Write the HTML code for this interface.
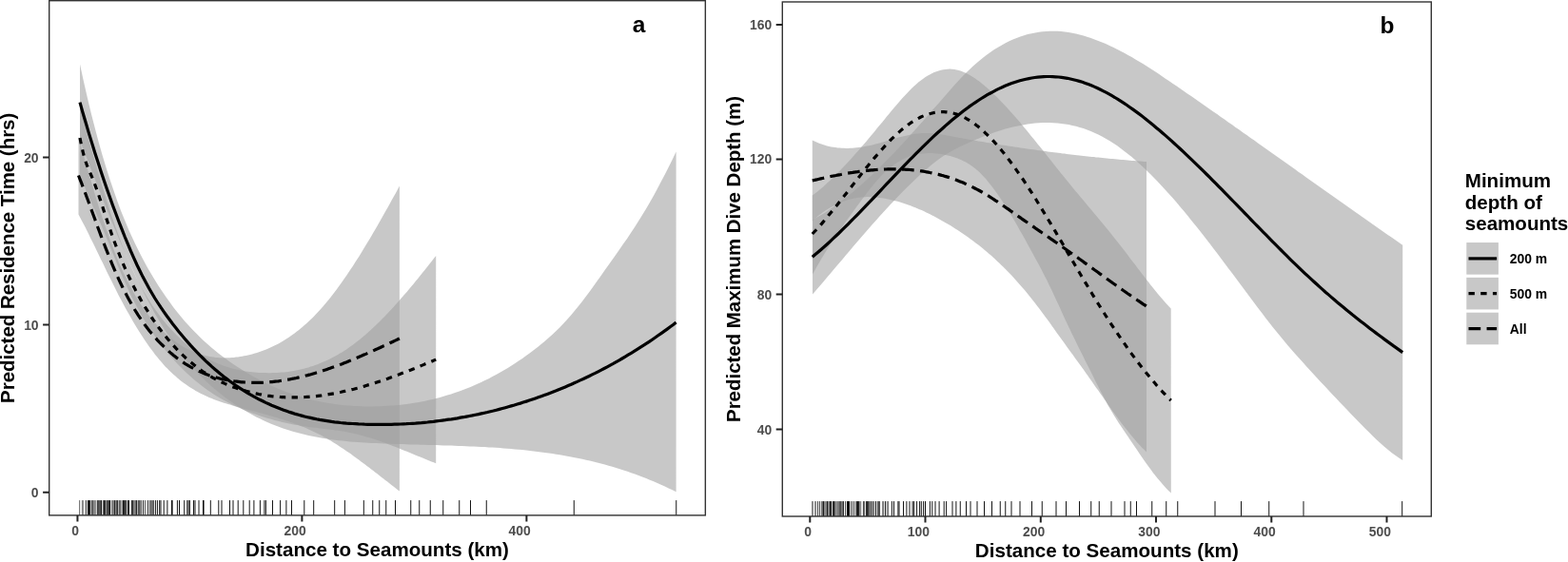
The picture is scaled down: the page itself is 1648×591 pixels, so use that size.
<!DOCTYPE html>
<html lang="en"><head><meta charset="utf-8"><title>Predicted residence time and dive depth vs distance to seamounts</title>
<style>
html,body{margin:0;padding:0;background:#fff;}
body{width:1648px;height:591px;overflow:hidden;}
svg{display:block;}
text{font-family:"Liberation Sans",sans-serif;font-weight:bold;}
.tk{font-size:13.9px;fill:#4d4d4d;}
.ti{font-size:20.6px;fill:#000;}
.tag{font-size:24.5px;fill:#000;}
.lg{font-size:13.9px;fill:#000;}
.lt{font-size:20.55px;fill:#000;}
</style></head><body>
<svg width="1648" height="591" viewBox="0 0 1648 591">
<rect width="1648" height="591" fill="#fff"/>
<path d="M84.0,67.5 L87.9,85.6 L91.9,102.9 L95.8,119.2 L99.8,134.7 L103.7,149.4 L107.6,163.3 L111.6,176.4 L115.5,188.8 L119.5,200.6 L123.4,211.7 L127.3,222.2 L131.3,232.1 L135.2,241.4 L139.2,250.3 L143.1,258.6 L147.1,266.6 L151.0,274.1 L154.9,281.3 L158.9,288.1 L162.8,294.6 L166.8,300.9 L170.7,306.8 L174.6,312.6 L178.6,318.1 L182.5,323.4 L186.5,328.4 L190.4,333.2 L194.3,337.9 L198.3,342.3 L202.2,346.6 L206.2,350.6 L210.1,354.5 L214.0,358.2 L218.0,361.8 L221.9,365.2 L225.9,368.5 L229.8,371.7 L233.8,374.7 L237.7,377.6 L241.6,380.5 L245.6,383.2 L249.5,385.8 L253.5,388.3 L257.4,390.8 L261.3,393.1 L265.3,395.4 L269.2,397.6 L273.2,399.7 L277.1,401.7 L281.0,403.6 L285.0,405.4 L288.9,407.2 L292.9,408.9 L296.8,410.5 L300.7,412.0 L304.7,413.4 L308.6,414.8 L312.6,416.0 L316.5,417.3 L320.5,418.4 L324.4,419.4 L328.3,420.4 L332.3,421.4 L336.2,422.2 L340.2,423.0 L344.1,423.7 L348.0,424.3 L352.0,424.9 L355.9,425.4 L359.9,425.9 L363.8,426.3 L367.7,426.6 L371.7,426.9 L375.6,427.1 L379.6,427.3 L383.5,427.4 L387.4,427.4 L391.4,427.4 L395.3,427.3 L399.3,427.2 L403.2,427.1 L407.2,426.8 L411.1,426.6 L415.0,426.3 L419.0,425.9 L422.9,425.5 L426.9,425.0 L430.8,424.4 L434.7,423.8 L438.7,423.2 L442.6,422.4 L446.6,421.7 L450.5,420.8 L454.4,419.9 L458.4,418.9 L462.3,417.9 L466.3,416.8 L470.2,415.6 L474.1,414.4 L478.1,413.1 L482.0,411.7 L486.0,410.3 L489.9,408.8 L493.9,407.2 L497.8,405.5 L501.7,403.8 L505.7,402.0 L509.6,400.1 L513.6,398.2 L517.5,396.1 L521.4,394.0 L525.4,391.8 L529.3,389.5 L533.3,387.2 L537.2,384.7 L541.1,382.2 L545.1,379.6 L549.0,376.9 L553.0,374.1 L556.9,371.2 L560.8,368.2 L564.8,365.2 L568.7,362.0 L572.7,358.7 L576.6,355.3 L580.6,351.8 L584.5,348.0 L588.4,344.2 L592.4,340.1 L596.3,335.8 L600.3,331.3 L604.2,326.6 L608.1,321.7 L612.1,316.7 L616.0,311.5 L620.0,306.2 L623.9,300.7 L627.8,295.2 L631.8,289.7 L635.7,284.1 L639.7,278.5 L643.6,273.0 L647.5,267.4 L651.5,261.8 L655.4,256.1 L659.4,250.4 L663.3,244.5 L667.3,238.5 L671.2,232.3 L675.1,226.0 L679.1,219.5 L683.0,212.7 L687.0,205.7 L690.9,198.5 L694.8,191.1 L698.8,183.5 L702.7,175.7 L706.7,167.7 L710.6,159.6 L710.6,517.3 L706.7,515.3 L702.7,513.4 L698.8,511.6 L694.8,509.8 L690.9,508.0 L687.0,506.3 L683.0,504.7 L679.1,503.1 L675.1,501.5 L671.2,500.0 L667.3,498.6 L663.3,497.2 L659.4,495.8 L655.4,494.5 L651.5,493.2 L647.5,492.0 L643.6,490.8 L639.7,489.7 L635.7,488.6 L631.8,487.5 L627.8,486.5 L623.9,485.5 L620.0,484.6 L616.0,483.7 L612.1,482.8 L608.1,482.0 L604.2,481.2 L600.3,480.4 L596.3,479.7 L592.4,479.0 L588.4,478.3 L584.5,477.7 L580.6,477.0 L576.6,476.5 L572.7,475.9 L568.7,475.4 L564.8,474.9 L560.8,474.4 L556.9,474.0 L553.0,473.5 L549.0,473.1 L545.1,472.7 L541.1,472.4 L537.2,472.0 L533.3,471.7 L529.3,471.4 L525.4,471.1 L521.4,470.8 L517.5,470.6 L513.6,470.4 L509.6,470.1 L505.7,469.9 L501.7,469.7 L497.8,469.5 L493.9,469.4 L489.9,469.2 L486.0,469.0 L482.0,468.9 L478.1,468.8 L474.1,468.6 L470.2,468.5 L466.3,468.4 L462.3,468.3 L458.4,468.1 L454.4,468.0 L450.5,467.9 L446.6,467.8 L442.6,467.7 L438.7,467.6 L434.7,467.5 L430.8,467.4 L426.9,467.3 L422.9,467.1 L419.0,467.0 L415.0,466.9 L411.1,466.7 L407.2,466.6 L403.2,466.4 L399.3,466.3 L395.3,466.1 L391.4,465.9 L387.4,465.7 L383.5,465.5 L379.6,465.3 L375.6,465.0 L371.7,464.7 L367.7,464.4 L363.8,464.0 L359.9,463.6 L355.9,463.2 L352.0,462.7 L348.0,462.2 L344.1,461.6 L340.2,461.0 L336.2,460.3 L332.3,459.6 L328.3,458.8 L324.4,458.0 L320.5,457.1 L316.5,456.1 L312.6,455.1 L308.6,454.0 L304.7,452.8 L300.7,451.5 L296.8,450.2 L292.9,448.8 L288.9,447.3 L285.0,445.7 L281.0,444.0 L277.1,442.2 L273.2,440.3 L269.2,438.4 L265.3,436.3 L261.3,434.1 L257.4,431.8 L253.5,429.4 L249.5,426.9 L245.6,424.3 L241.6,421.6 L237.7,418.7 L233.8,415.7 L229.8,412.6 L225.9,409.3 L221.9,405.9 L218.0,402.2 L214.0,398.5 L210.1,394.5 L206.2,390.4 L202.2,386.0 L198.3,381.5 L194.3,376.7 L190.4,371.7 L186.5,366.5 L182.5,361.0 L178.6,355.3 L174.6,349.3 L170.7,343.0 L166.8,336.5 L162.8,329.7 L158.9,322.6 L154.9,315.2 L151.0,307.6 L147.1,299.7 L143.1,291.5 L139.2,283.1 L135.2,274.5 L131.3,265.6 L127.3,256.6 L123.4,247.3 L119.5,237.9 L115.5,228.3 L111.6,218.5 L107.6,208.6 L103.7,198.6 L99.8,188.5 L95.8,178.3 L91.9,168.1 L87.9,157.9 L84.0,147.6Z" fill="#a0a0a0" fill-opacity="0.58"/>
<path d="M84.0,107.0 L86.4,119.1 L88.7,129.7 L91.1,139.1 L93.4,147.8 L95.8,155.9 L98.1,163.9 L100.5,171.9 L102.8,179.9 L105.2,188.0 L107.5,195.9 L109.9,203.7 L112.2,211.2 L114.6,218.6 L116.9,225.8 L119.3,232.8 L121.7,239.5 L124.0,246.1 L126.4,252.5 L128.7,258.6 L131.1,264.5 L133.4,270.2 L135.8,275.7 L138.1,281.0 L140.5,286.0 L142.8,290.9 L145.2,295.6 L147.5,300.0 L149.9,304.4 L152.3,308.5 L154.6,312.5 L157.0,316.3 L159.3,320.0 L161.7,323.5 L164.0,326.8 L166.4,330.1 L168.7,333.2 L171.1,336.2 L173.4,339.1 L175.8,341.9 L178.1,344.6 L180.5,347.1 L182.8,349.6 L185.2,352.0 L187.6,354.3 L189.9,356.6 L192.3,358.7 L194.6,360.8 L197.0,362.8 L199.3,364.7 L201.7,366.5 L204.0,368.2 L206.4,369.9 L208.7,371.5 L211.1,373.0 L213.4,374.4 L215.8,375.8 L218.1,377.1 L220.5,378.4 L222.9,379.5 L225.2,380.6 L227.6,381.7 L229.9,382.7 L232.3,383.6 L234.6,384.5 L237.0,385.3 L239.3,386.1 L241.7,386.8 L244.0,387.4 L246.4,388.0 L248.7,388.6 L251.1,389.1 L253.4,389.6 L255.8,390.0 L258.2,390.4 L260.5,390.7 L262.9,391.0 L265.2,391.3 L267.6,391.5 L269.9,391.7 L272.3,391.9 L274.6,392.0 L277.0,392.1 L279.3,392.1 L281.7,392.2 L284.0,392.2 L286.4,392.1 L288.8,392.1 L291.1,392.0 L293.5,391.8 L295.8,391.6 L298.2,391.4 L300.5,391.2 L302.9,390.9 L305.2,390.5 L307.6,390.2 L309.9,389.7 L312.3,389.3 L314.6,388.8 L317.0,388.2 L319.3,387.7 L321.7,387.0 L324.1,386.4 L326.4,385.6 L328.8,384.9 L331.1,384.1 L333.5,383.2 L335.8,382.3 L338.2,381.3 L340.5,380.3 L342.9,379.3 L345.2,378.2 L347.6,377.0 L349.9,375.8 L352.3,374.5 L354.6,373.2 L357.0,371.8 L359.4,370.4 L361.7,368.9 L364.1,367.4 L366.4,365.8 L368.8,364.1 L371.1,362.4 L373.5,360.6 L375.8,358.8 L378.2,356.9 L380.5,355.0 L382.9,353.0 L385.2,350.9 L387.6,348.8 L389.9,346.7 L392.3,344.5 L394.7,342.3 L397.0,340.0 L399.4,337.7 L401.7,335.3 L404.1,332.9 L406.4,330.5 L408.8,328.0 L411.1,325.5 L413.5,322.9 L415.8,320.3 L418.2,317.7 L420.5,315.0 L422.9,312.3 L425.3,309.6 L427.6,306.9 L430.0,304.1 L432.3,301.3 L434.7,298.4 L437.0,295.6 L439.4,292.7 L441.7,289.8 L444.1,286.8 L446.4,283.9 L448.8,280.9 L451.1,278.0 L453.5,274.9 L455.8,271.9 L458.2,268.9 L458.2,487.2 L455.8,486.3 L453.5,485.4 L451.1,484.5 L448.8,483.5 L446.4,482.6 L444.1,481.6 L441.7,480.6 L439.4,479.7 L437.0,478.7 L434.7,477.7 L432.3,476.8 L430.0,475.8 L427.6,474.8 L425.3,473.9 L422.9,472.9 L420.5,472.0 L418.2,471.0 L415.8,470.1 L413.5,469.2 L411.1,468.3 L408.8,467.4 L406.4,466.5 L404.1,465.6 L401.7,464.8 L399.4,463.9 L397.0,463.1 L394.7,462.3 L392.3,461.6 L389.9,460.8 L387.6,460.1 L385.2,459.4 L382.9,458.7 L380.5,458.0 L378.2,457.4 L375.8,456.8 L373.5,456.2 L371.1,455.7 L368.8,455.2 L366.4,454.7 L364.1,454.2 L361.7,453.8 L359.4,453.4 L357.0,453.1 L354.6,452.7 L352.3,452.4 L349.9,452.1 L347.6,451.8 L345.2,451.5 L342.9,451.2 L340.5,450.9 L338.2,450.7 L335.8,450.4 L333.5,450.1 L331.1,449.8 L328.8,449.5 L326.4,449.2 L324.1,448.9 L321.7,448.6 L319.3,448.2 L317.0,447.9 L314.6,447.5 L312.3,447.1 L309.9,446.7 L307.6,446.2 L305.2,445.7 L302.9,445.2 L300.5,444.7 L298.2,444.2 L295.8,443.7 L293.5,443.1 L291.1,442.5 L288.8,441.9 L286.4,441.2 L284.0,440.6 L281.7,439.9 L279.3,439.2 L277.0,438.5 L274.6,437.7 L272.3,436.9 L269.9,436.1 L267.6,435.3 L265.2,434.5 L262.9,433.6 L260.5,432.7 L258.2,431.8 L255.8,430.8 L253.4,429.8 L251.1,428.8 L248.7,427.7 L246.4,426.6 L244.0,425.5 L241.7,424.3 L239.3,423.1 L237.0,421.8 L234.6,420.5 L232.3,419.2 L229.9,417.8 L227.6,416.4 L225.2,414.9 L222.9,413.4 L220.5,411.8 L218.1,410.2 L215.8,408.5 L213.4,406.7 L211.1,404.9 L208.7,403.1 L206.4,401.2 L204.0,399.2 L201.7,397.2 L199.3,395.1 L197.0,392.9 L194.6,390.7 L192.3,388.4 L189.9,386.1 L187.6,383.7 L185.2,381.2 L182.8,378.6 L180.5,376.0 L178.1,373.3 L175.8,370.5 L173.4,367.7 L171.1,364.7 L168.7,361.7 L166.4,358.5 L164.0,355.3 L161.7,352.0 L159.3,348.5 L157.0,344.9 L154.6,341.3 L152.3,337.4 L149.9,333.5 L147.5,329.4 L145.2,325.1 L142.8,320.8 L140.5,316.2 L138.1,311.5 L135.8,306.7 L133.4,301.6 L131.1,296.4 L128.7,291.0 L126.4,285.5 L124.0,279.9 L121.7,274.1 L119.3,268.3 L116.9,262.5 L114.6,256.7 L112.2,250.9 L109.9,245.2 L107.5,239.6 L105.2,234.1 L102.8,228.7 L100.5,223.3 L98.1,218.1 L95.8,212.8 L93.4,207.4 L91.1,201.9 L88.7,196.0 L86.4,189.8 L84.0,183.1Z" fill="#a0a0a0" fill-opacity="0.58"/>
<path d="M82.5,143.4 L84.6,151.3 L86.7,159.1 L88.9,166.8 L91.0,174.4 L93.1,181.8 L95.2,189.1 L97.4,196.3 L99.5,203.4 L101.6,210.3 L103.7,217.1 L105.8,223.7 L108.0,230.2 L110.1,236.5 L112.2,242.6 L114.3,248.6 L116.5,254.4 L118.6,260.1 L120.7,265.5 L122.8,270.8 L124.9,275.9 L127.1,280.8 L129.2,285.5 L131.3,290.1 L133.4,294.4 L135.6,298.6 L137.7,302.6 L139.8,306.5 L141.9,310.2 L144.0,313.8 L146.2,317.2 L148.3,320.4 L150.4,323.6 L152.5,326.6 L154.6,329.5 L156.8,332.2 L158.9,334.9 L161.0,337.4 L163.1,339.8 L165.3,342.2 L167.4,344.4 L169.5,346.5 L171.6,348.6 L173.7,350.6 L175.9,352.5 L178.0,354.3 L180.1,356.0 L182.2,357.7 L184.4,359.2 L186.5,360.7 L188.6,362.1 L190.7,363.5 L192.8,364.7 L195.0,365.9 L197.1,367.0 L199.2,368.1 L201.3,369.1 L203.5,370.0 L205.6,370.8 L207.7,371.6 L209.8,372.3 L211.9,373.0 L214.1,373.6 L216.2,374.1 L218.3,374.6 L220.4,375.0 L222.6,375.3 L224.7,375.6 L226.8,375.9 L228.9,376.1 L231.0,376.2 L233.2,376.3 L235.3,376.4 L237.4,376.3 L239.5,376.3 L241.7,376.2 L243.8,376.1 L245.9,375.9 L248.0,375.6 L250.1,375.4 L252.3,375.1 L254.4,374.7 L256.5,374.3 L258.6,373.9 L260.7,373.5 L262.9,373.0 L265.0,372.4 L267.1,371.8 L269.2,371.2 L271.4,370.5 L273.5,369.8 L275.6,369.1 L277.7,368.3 L279.8,367.4 L282.0,366.5 L284.1,365.6 L286.2,364.6 L288.3,363.6 L290.5,362.5 L292.6,361.4 L294.7,360.2 L296.8,359.0 L298.9,357.7 L301.1,356.3 L303.2,355.0 L305.3,353.5 L307.4,352.0 L309.6,350.5 L311.7,348.8 L313.8,347.2 L315.9,345.4 L318.0,343.7 L320.2,341.8 L322.3,339.9 L324.4,338.0 L326.5,335.9 L328.7,333.9 L330.8,331.7 L332.9,329.5 L335.0,327.2 L337.1,324.9 L339.3,322.5 L341.4,320.0 L343.5,317.5 L345.6,314.9 L347.8,312.2 L349.9,309.5 L352.0,306.7 L354.1,303.9 L356.2,301.0 L358.4,298.1 L360.5,295.1 L362.6,292.0 L364.7,288.9 L366.8,285.8 L369.0,282.6 L371.1,279.4 L373.2,276.1 L375.3,272.8 L377.5,269.4 L379.6,266.0 L381.7,262.5 L383.8,259.1 L385.9,255.6 L388.1,252.0 L390.2,248.4 L392.3,244.8 L394.4,241.2 L396.6,237.5 L398.7,233.8 L400.8,230.1 L402.9,226.3 L405.0,222.5 L407.2,218.7 L409.3,214.9 L411.4,211.1 L413.5,207.3 L415.7,203.4 L417.8,199.5 L419.9,195.6 L419.9,516.5 L417.8,514.9 L415.7,513.2 L413.5,511.6 L411.4,509.9 L409.3,508.3 L407.2,506.6 L405.0,505.0 L402.9,503.3 L400.8,501.7 L398.7,500.0 L396.6,498.3 L394.4,496.7 L392.3,495.1 L390.2,493.4 L388.1,491.8 L385.9,490.2 L383.8,488.6 L381.7,487.0 L379.6,485.4 L377.5,483.8 L375.3,482.2 L373.2,480.7 L371.1,479.2 L369.0,477.6 L366.8,476.1 L364.7,474.7 L362.6,473.2 L360.5,471.8 L358.4,470.4 L356.2,469.0 L354.1,467.6 L352.0,466.2 L349.9,464.9 L347.8,463.6 L345.6,462.4 L343.5,461.1 L341.4,459.9 L339.3,458.8 L337.1,457.6 L335.0,456.5 L332.9,455.4 L330.8,454.4 L328.7,453.4 L326.5,452.4 L324.4,451.4 L322.3,450.5 L320.2,449.6 L318.0,448.7 L315.9,447.9 L313.8,447.0 L311.7,446.2 L309.6,445.4 L307.4,444.6 L305.3,443.9 L303.2,443.1 L301.1,442.4 L298.9,441.7 L296.8,441.0 L294.7,440.4 L292.6,439.7 L290.5,439.1 L288.3,438.4 L286.2,437.8 L284.1,437.2 L282.0,436.6 L279.8,436.0 L277.7,435.4 L275.6,434.8 L273.5,434.3 L271.4,433.7 L269.2,433.1 L267.1,432.5 L265.0,432.0 L262.9,431.4 L260.7,430.9 L258.6,430.3 L256.5,429.7 L254.4,429.2 L252.3,428.6 L250.1,428.0 L248.0,427.4 L245.9,426.9 L243.8,426.2 L241.7,425.6 L239.5,425.0 L237.4,424.3 L235.3,423.7 L233.2,423.0 L231.0,422.3 L228.9,421.5 L226.8,420.7 L224.7,419.9 L222.6,419.1 L220.4,418.2 L218.3,417.3 L216.2,416.3 L214.1,415.3 L211.9,414.3 L209.8,413.2 L207.7,412.1 L205.6,410.9 L203.5,409.6 L201.3,408.3 L199.2,407.0 L197.1,405.5 L195.0,404.1 L192.8,402.5 L190.7,400.9 L188.6,399.2 L186.5,397.5 L184.4,395.6 L182.2,393.7 L180.1,391.8 L178.0,389.7 L175.9,387.6 L173.7,385.4 L171.6,383.0 L169.5,380.6 L167.4,378.2 L165.3,375.6 L163.1,372.9 L161.0,370.1 L158.9,367.3 L156.8,364.4 L154.6,361.3 L152.5,358.2 L150.4,355.0 L148.3,351.8 L146.2,348.4 L144.0,345.0 L141.9,341.5 L139.8,337.9 L137.7,334.3 L135.6,330.5 L133.4,326.7 L131.3,322.9 L129.2,318.9 L127.1,314.9 L124.9,310.9 L122.8,306.7 L120.7,302.5 L118.6,298.3 L116.5,294.0 L114.3,289.7 L112.2,285.4 L110.1,281.0 L108.0,276.6 L105.8,272.2 L103.7,267.8 L101.6,263.4 L99.5,259.1 L97.4,254.7 L95.2,250.4 L93.1,246.1 L91.0,241.8 L88.9,237.6 L86.7,233.5 L84.6,229.4 L82.5,225.4Z" fill="#a0a0a0" fill-opacity="0.58"/>
<path d="M84.0,107.6 L87.1,118.7 L90.3,129.5 L93.4,140.1 L96.6,150.4 L99.7,160.5 L102.9,170.3 L106.0,180.0 L109.2,189.4 L112.3,198.5 L115.5,207.5 L118.6,216.2 L121.8,224.7 L124.9,233.0 L128.1,241.1 L131.2,249.0 L134.4,256.6 L137.5,264.1 L140.7,271.3 L143.8,278.2 L147.0,284.8 L150.1,291.1 L153.3,297.1 L156.4,302.8 L159.6,308.3 L162.7,313.5 L165.9,318.5 L169.0,323.2 L172.2,327.8 L175.3,332.2 L178.5,336.5 L181.6,340.7 L184.8,344.7 L187.9,348.7 L191.1,352.5 L194.2,356.2 L197.4,359.9 L200.5,363.4 L203.7,366.8 L206.8,370.2 L209.9,373.4 L213.1,376.5 L216.2,379.6 L219.4,382.5 L222.5,385.4 L225.7,388.2 L228.8,390.8 L232.0,393.4 L235.1,396.0 L238.3,398.4 L241.4,400.8 L244.6,403.0 L247.7,405.2 L250.9,407.4 L254.0,409.4 L257.2,411.4 L260.3,413.3 L263.5,415.1 L266.6,416.9 L269.8,418.6 L272.9,420.3 L276.1,421.8 L279.2,423.4 L282.4,424.8 L285.5,426.2 L288.7,427.5 L291.8,428.8 L295.0,430.1 L298.1,431.2 L301.3,432.3 L304.4,433.4 L307.6,434.4 L310.7,435.4 L313.9,436.3 L317.0,437.1 L320.2,438.0 L323.3,438.7 L326.5,439.4 L329.6,440.1 L332.8,440.8 L335.9,441.4 L339.0,441.9 L342.2,442.4 L345.3,442.9 L348.5,443.4 L351.6,443.8 L354.8,444.1 L357.9,444.5 L361.1,444.8 L364.2,445.1 L367.4,445.3 L370.5,445.5 L373.7,445.7 L376.8,445.9 L380.0,446.0 L383.1,446.2 L386.3,446.3 L389.4,446.3 L392.6,446.4 L395.7,446.4 L398.9,446.4 L402.0,446.4 L405.2,446.4 L408.3,446.4 L411.5,446.3 L414.6,446.2 L417.8,446.1 L420.9,446.0 L424.1,445.8 L427.2,445.7 L430.4,445.5 L433.5,445.3 L436.7,445.1 L439.8,444.8 L443.0,444.6 L446.1,444.3 L449.3,444.0 L452.4,443.6 L455.6,443.3 L458.7,442.9 L461.8,442.5 L465.0,442.1 L468.1,441.7 L471.3,441.2 L474.4,440.8 L477.6,440.3 L480.7,439.8 L483.9,439.2 L487.0,438.7 L490.2,438.1 L493.3,437.5 L496.5,436.9 L499.6,436.2 L502.8,435.6 L505.9,434.9 L509.1,434.2 L512.2,433.5 L515.4,432.7 L518.5,432.0 L521.7,431.2 L524.8,430.4 L528.0,429.5 L531.1,428.7 L534.3,427.8 L537.4,426.9 L540.6,426.0 L543.7,425.0 L546.9,424.1 L550.0,423.1 L553.2,422.1 L556.3,421.1 L559.5,420.0 L562.6,418.9 L565.8,417.8 L568.9,416.7 L572.1,415.6 L575.2,414.4 L578.4,413.2 L581.5,412.0 L584.7,410.8 L587.8,409.5 L590.9,408.2 L594.1,406.9 L597.2,405.6 L600.4,404.2 L603.5,402.8 L606.7,401.4 L609.8,399.9 L613.0,398.5 L616.1,397.0 L619.3,395.5 L622.4,393.9 L625.6,392.4 L628.7,390.8 L631.9,389.1 L635.0,387.5 L638.2,385.8 L641.3,384.1 L644.5,382.4 L647.6,380.6 L650.8,378.8 L653.9,377.0 L657.1,375.1 L660.2,373.2 L663.4,371.3 L666.5,369.4 L669.7,367.4 L672.8,365.4 L676.0,363.4 L679.1,361.4 L682.3,359.3 L685.4,357.2 L688.6,355.0 L691.7,352.8 L694.9,350.6 L698.0,348.4 L701.2,346.1 L704.3,343.8 L707.5,341.5 L710.6,339.1" fill="none" stroke="#000" stroke-width="3.2"/>
<path d="M84.0,145.0 L85.9,154.6 L87.8,162.3 L89.6,168.7 L91.5,174.0 L93.4,178.7 L95.3,183.0 L97.2,187.4 L99.0,192.1 L100.9,197.1 L102.8,202.4 L104.7,207.9 L106.6,213.5 L108.4,219.3 L110.3,225.0 L112.2,230.8 L114.1,236.5 L116.0,242.1 L117.8,247.5 L119.7,252.7 L121.6,257.8 L123.5,262.7 L125.4,267.5 L127.2,272.2 L129.1,276.7 L131.0,281.1 L132.9,285.3 L134.8,289.4 L136.7,293.5 L138.5,297.3 L140.4,301.1 L142.3,304.8 L144.2,308.3 L146.1,311.8 L147.9,315.1 L149.8,318.4 L151.7,321.6 L153.6,324.7 L155.5,327.7 L157.3,330.6 L159.2,333.5 L161.1,336.3 L163.0,339.0 L164.9,341.7 L166.7,344.3 L168.6,346.8 L170.5,349.3 L172.4,351.7 L174.3,354.1 L176.1,356.3 L178.0,358.6 L179.9,360.8 L181.8,362.9 L183.7,364.9 L185.5,366.9 L187.4,368.9 L189.3,370.8 L191.2,372.6 L193.1,374.4 L194.9,376.2 L196.8,377.9 L198.7,379.5 L200.6,381.1 L202.5,382.6 L204.3,384.1 L206.2,385.6 L208.1,387.0 L210.0,388.4 L211.9,389.7 L213.7,391.0 L215.6,392.2 L217.5,393.4 L219.4,394.6 L221.3,395.7 L223.1,396.8 L225.0,397.8 L226.9,398.8 L228.8,399.8 L230.7,400.8 L232.6,401.7 L234.4,402.5 L236.3,403.4 L238.2,404.2 L240.1,405.0 L242.0,405.7 L243.8,406.5 L245.7,407.2 L247.6,407.8 L249.5,408.5 L251.4,409.1 L253.2,409.7 L255.1,410.3 L257.0,410.8 L258.9,411.4 L260.8,411.9 L262.6,412.4 L264.5,412.8 L266.4,413.3 L268.3,413.7 L270.2,414.1 L272.0,414.5 L273.9,414.8 L275.8,415.2 L277.7,415.5 L279.6,415.8 L281.4,416.1 L283.3,416.3 L285.2,416.6 L287.1,416.8 L289.0,417.0 L290.8,417.2 L292.7,417.3 L294.6,417.5 L296.5,417.6 L298.4,417.7 L300.2,417.8 L302.1,417.8 L304.0,417.9 L305.9,417.9 L307.8,417.9 L309.6,417.9 L311.5,417.9 L313.4,417.9 L315.3,417.8 L317.2,417.7 L319.1,417.6 L320.9,417.5 L322.8,417.4 L324.7,417.3 L326.6,417.1 L328.5,416.9 L330.3,416.8 L332.2,416.6 L334.1,416.3 L336.0,416.1 L337.9,415.9 L339.7,415.6 L341.6,415.3 L343.5,415.0 L345.4,414.7 L347.3,414.4 L349.1,414.1 L351.0,413.8 L352.9,413.4 L354.8,413.0 L356.7,412.6 L358.5,412.3 L360.4,411.8 L362.3,411.4 L364.2,411.0 L366.1,410.6 L367.9,410.1 L369.8,409.6 L371.7,409.2 L373.6,408.7 L375.5,408.2 L377.3,407.7 L379.2,407.1 L381.1,406.6 L383.0,406.1 L384.9,405.5 L386.7,404.9 L388.6,404.4 L390.5,403.8 L392.4,403.2 L394.3,402.6 L396.1,402.0 L398.0,401.4 L399.9,400.7 L401.8,400.1 L403.7,399.5 L405.5,398.8 L407.4,398.2 L409.3,397.5 L411.2,396.8 L413.1,396.1 L415.0,395.5 L416.8,394.8 L418.7,394.1 L420.6,393.3 L422.5,392.6 L424.4,391.9 L426.2,391.2 L428.1,390.5 L430.0,389.7 L431.9,389.0 L433.8,388.2 L435.6,387.5 L437.5,386.7 L439.4,385.9 L441.3,385.2 L443.2,384.4 L445.0,383.6 L446.9,382.8 L448.8,382.1 L450.7,381.3 L452.6,380.5 L454.4,379.7 L456.3,378.9 L458.2,378.1" fill="none" stroke="#000" stroke-width="3.2" stroke-dasharray="6.36 6.36"/>
<path d="M82.5,184.5 L84.2,188.8 L85.9,193.2 L87.6,197.7 L89.3,202.2 L91.0,206.8 L92.7,211.3 L94.4,215.9 L96.1,220.6 L97.8,225.2 L99.5,229.8 L101.2,234.4 L102.8,239.0 L104.5,243.5 L106.2,248.1 L107.9,252.6 L109.6,257.0 L111.3,261.4 L113.0,265.7 L114.7,270.0 L116.4,274.2 L118.1,278.3 L119.8,282.3 L121.5,286.3 L123.2,290.1 L124.9,293.9 L126.6,297.5 L128.3,301.0 L130.0,304.5 L131.7,307.8 L133.4,311.1 L135.1,314.2 L136.8,317.3 L138.5,320.3 L140.1,323.2 L141.8,326.0 L143.5,328.7 L145.2,331.4 L146.9,333.9 L148.6,336.4 L150.3,338.9 L152.0,341.2 L153.7,343.5 L155.4,345.7 L157.1,347.9 L158.8,350.0 L160.5,352.0 L162.2,354.0 L163.9,355.9 L165.6,357.8 L167.3,359.6 L169.0,361.3 L170.7,363.0 L172.4,364.7 L174.1,366.3 L175.8,367.9 L177.4,369.4 L179.1,370.9 L180.8,372.3 L182.5,373.7 L184.2,375.0 L185.9,376.4 L187.6,377.6 L189.3,378.8 L191.0,380.0 L192.7,381.2 L194.4,382.3 L196.1,383.3 L197.8,384.4 L199.5,385.4 L201.2,386.3 L202.9,387.2 L204.6,388.1 L206.3,389.0 L208.0,389.8 L209.7,390.6 L211.4,391.3 L213.1,392.1 L214.7,392.8 L216.4,393.4 L218.1,394.1 L219.8,394.7 L221.5,395.2 L223.2,395.8 L224.9,396.3 L226.6,396.8 L228.3,397.3 L230.0,397.7 L231.7,398.2 L233.4,398.6 L235.1,398.9 L236.8,399.3 L238.5,399.6 L240.2,400.0 L241.9,400.3 L243.6,400.5 L245.3,400.8 L247.0,401.0 L248.7,401.2 L250.4,401.4 L252.0,401.6 L253.7,401.8 L255.4,401.9 L257.1,402.0 L258.8,402.2 L260.5,402.2 L262.2,402.3 L263.9,402.4 L265.6,402.4 L267.3,402.4 L269.0,402.4 L270.7,402.4 L272.4,402.4 L274.1,402.3 L275.8,402.3 L277.5,402.2 L279.2,402.1 L280.9,402.0 L282.6,401.9 L284.3,401.7 L286.0,401.6 L287.7,401.4 L289.3,401.2 L291.0,401.0 L292.7,400.8 L294.4,400.5 L296.1,400.3 L297.8,400.0 L299.5,399.8 L301.2,399.5 L302.9,399.2 L304.6,398.9 L306.3,398.5 L308.0,398.2 L309.7,397.8 L311.4,397.5 L313.1,397.1 L314.8,396.7 L316.5,396.3 L318.2,395.9 L319.9,395.5 L321.6,395.0 L323.3,394.6 L325.0,394.1 L326.6,393.7 L328.3,393.2 L330.0,392.7 L331.7,392.2 L333.4,391.7 L335.1,391.1 L336.8,390.6 L338.5,390.1 L340.2,389.5 L341.9,389.0 L343.6,388.4 L345.3,387.8 L347.0,387.2 L348.7,386.6 L350.4,386.0 L352.1,385.4 L353.8,384.8 L355.5,384.1 L357.2,383.5 L358.9,382.9 L360.6,382.2 L362.3,381.5 L363.9,380.9 L365.6,380.2 L367.3,379.5 L369.0,378.8 L370.7,378.1 L372.4,377.4 L374.1,376.7 L375.8,376.0 L377.5,375.3 L379.2,374.6 L380.9,373.8 L382.6,373.1 L384.3,372.4 L386.0,371.6 L387.7,370.9 L389.4,370.1 L391.1,369.4 L392.8,368.6 L394.5,367.8 L396.2,367.1 L397.9,366.3 L399.6,365.5 L401.2,364.7 L402.9,363.9 L404.6,363.2 L406.3,362.4 L408.0,361.6 L409.7,360.8 L411.4,360.0 L413.1,359.2 L414.8,358.4 L416.5,357.6 L418.2,356.8 L419.9,356.0" fill="none" stroke="#000" stroke-width="3.2" stroke-dasharray="12.7 6.36"/>
<path d="M163.40,526.1V541.9M165.40,526.1V541.9M167.70,526.1V541.9M169.00,526.1V541.9M172.20,526.1V541.9M175.90,526.1V541.9M180.50,526.1V541.9M181.10,526.1V541.9M186.40,526.1V541.9M188.50,526.1V541.9M193.70,526.1V541.9M196.80,526.1V541.9M198.10,526.1V541.9M199.40,526.1V541.9M203.50,526.1V541.9M205.00,526.1V541.9M209.00,526.1V541.9M213.50,526.1V541.9M214.10,526.1V541.9M221.30,526.1V541.9M229.80,526.1V541.9M233.00,526.1V541.9M241.50,526.1V541.9M245.00,526.1V541.9M250.20,526.1V541.9M255.80,526.1V541.9M262.20,526.1V541.9M266.90,526.1V541.9M273.40,526.1V541.9M277.90,526.1V541.9M279.40,526.1V541.9M286.50,526.1V541.9M294.60,526.1V541.9M300.90,526.1V541.9M306.50,526.1V541.9M319.80,526.1V541.9M329.70,526.1V541.9M351.70,526.1V541.9M362.40,526.1V541.9M382.30,526.1V541.9M391.75,526.1V541.9M398.75,526.1V541.9M405.75,526.1V541.9M415.50,526.1V541.9M431.75,526.1V541.9M440.75,526.1V541.9M452.25,526.1V541.9M465.75,526.1V541.9M482.75,526.1V541.9M494.50,526.1V541.9M511.25,526.1V541.9M603.25,526.1V541.9M710.75,526.1V541.9" stroke="#000" stroke-width="1.0" stroke-opacity="0.92" fill="none"/>
<rect x="83" y="526.1" width="1" height="15.8" fill="#000" fill-opacity="0.52"/>
<rect x="84" y="526.1" width="1" height="15.8" fill="#000" fill-opacity="0.10"/>
<rect x="85" y="526.1" width="1" height="15.8" fill="#000" fill-opacity="0.05"/>
<rect x="86" y="526.1" width="1" height="15.8" fill="#000" fill-opacity="0.47"/>
<rect x="87" y="526.1" width="1" height="15.8" fill="#000" fill-opacity="0.43"/>
<rect x="89" y="526.1" width="1" height="15.8" fill="#000" fill-opacity="0.19"/>
<rect x="90" y="526.1" width="1" height="15.8" fill="#000" fill-opacity="0.66"/>
<rect x="91" y="526.1" width="1" height="15.8" fill="#000" fill-opacity="0.10"/>
<rect x="92" y="526.1" width="1" height="15.8" fill="#000" fill-opacity="0.85"/>
<rect x="93" y="526.1" width="1" height="15.8" fill="#000" fill-opacity="0.90"/>
<rect x="94" y="526.1" width="1" height="15.8" fill="#000" fill-opacity="0.85"/>
<rect x="95" y="526.1" width="1" height="15.8" fill="#000" fill-opacity="0.24"/>
<rect x="96" y="526.1" width="1" height="15.8" fill="#000" fill-opacity="0.66"/>
<rect x="97" y="526.1" width="1" height="15.8" fill="#000" fill-opacity="0.62"/>
<rect x="98" y="526.1" width="1" height="15.8" fill="#000" fill-opacity="0.47"/>
<rect x="99" y="526.1" width="1" height="15.8" fill="#000" fill-opacity="0.47"/>
<rect x="100" y="526.1" width="1" height="15.8" fill="#000" fill-opacity="0.43"/>
<rect x="101" y="526.1" width="1" height="15.8" fill="#000" fill-opacity="0.19"/>
<rect x="102" y="526.1" width="1" height="15.8" fill="#000" fill-opacity="0.76"/>
<rect x="103" y="526.1" width="1" height="15.8" fill="#000" fill-opacity="0.71"/>
<rect x="104" y="526.1" width="1" height="15.8" fill="#000" fill-opacity="0.66"/>
<rect x="105" y="526.1" width="1" height="15.8" fill="#000" fill-opacity="0.66"/>
<rect x="106" y="526.1" width="1" height="15.8" fill="#000" fill-opacity="0.90"/>
<rect x="107" y="526.1" width="1" height="15.8" fill="#000" fill-opacity="0.14"/>
<rect x="108" y="526.1" width="1" height="15.8" fill="#000" fill-opacity="0.57"/>
<rect x="109" y="526.1" width="1" height="15.8" fill="#000" fill-opacity="0.90"/>
<rect x="110" y="526.1" width="1" height="15.8" fill="#000" fill-opacity="0.76"/>
<rect x="111" y="526.1" width="1" height="15.8" fill="#000" fill-opacity="0.43"/>
<rect x="112" y="526.1" width="1" height="15.8" fill="#000" fill-opacity="0.71"/>
<rect x="113" y="526.1" width="1" height="15.8" fill="#000" fill-opacity="0.71"/>
<rect x="114" y="526.1" width="1" height="15.8" fill="#000" fill-opacity="0.76"/>
<rect x="115" y="526.1" width="1" height="15.8" fill="#000" fill-opacity="0.95"/>
<rect x="116" y="526.1" width="1" height="15.8" fill="#000" fill-opacity="0.14"/>
<rect x="117" y="526.1" width="1" height="15.8" fill="#000" fill-opacity="0.43"/>
<rect x="118" y="526.1" width="1" height="15.8" fill="#000" fill-opacity="0.52"/>
<rect x="119" y="526.1" width="1" height="15.8" fill="#000" fill-opacity="0.47"/>
<rect x="120" y="526.1" width="1" height="15.8" fill="#000" fill-opacity="0.85"/>
<rect x="121" y="526.1" width="1" height="15.8" fill="#000" fill-opacity="0.47"/>
<rect x="122" y="526.1" width="1" height="15.8" fill="#000" fill-opacity="0.66"/>
<rect x="123" y="526.1" width="1" height="15.8" fill="#000" fill-opacity="0.81"/>
<rect x="124" y="526.1" width="1" height="15.8" fill="#000" fill-opacity="0.28"/>
<rect x="125" y="526.1" width="1" height="15.8" fill="#000" fill-opacity="0.62"/>
<rect x="126" y="526.1" width="1" height="15.8" fill="#000" fill-opacity="0.57"/>
<rect x="127" y="526.1" width="1" height="15.8" fill="#000" fill-opacity="0.33"/>
<rect x="128" y="526.1" width="1" height="15.8" fill="#000" fill-opacity="0.38"/>
<rect x="129" y="526.1" width="1" height="15.8" fill="#000" fill-opacity="0.90"/>
<rect x="130" y="526.1" width="1" height="15.8" fill="#000" fill-opacity="0.85"/>
<rect x="131" y="526.1" width="1" height="15.8" fill="#000" fill-opacity="0.71"/>
<rect x="132" y="526.1" width="1" height="15.8" fill="#000" fill-opacity="0.76"/>
<rect x="133" y="526.1" width="1" height="15.8" fill="#000" fill-opacity="0.19"/>
<rect x="134" y="526.1" width="1" height="15.8" fill="#000" fill-opacity="0.85"/>
<rect x="135" y="526.1" width="1" height="15.8" fill="#000" fill-opacity="0.85"/>
<rect x="136" y="526.1" width="1" height="15.8" fill="#000" fill-opacity="0.05"/>
<rect x="137" y="526.1" width="1" height="15.8" fill="#000" fill-opacity="0.05"/>
<rect x="138" y="526.1" width="1" height="15.8" fill="#000" fill-opacity="0.81"/>
<rect x="139" y="526.1" width="1" height="15.8" fill="#000" fill-opacity="0.76"/>
<rect x="140" y="526.1" width="1" height="15.8" fill="#000" fill-opacity="0.52"/>
<rect x="141" y="526.1" width="1" height="15.8" fill="#000" fill-opacity="0.47"/>
<rect x="142" y="526.1" width="1" height="15.8" fill="#000" fill-opacity="0.57"/>
<rect x="143" y="526.1" width="1" height="15.8" fill="#000" fill-opacity="0.85"/>
<rect x="144" y="526.1" width="1" height="15.8" fill="#000" fill-opacity="0.28"/>
<rect x="145" y="526.1" width="1" height="15.8" fill="#000" fill-opacity="0.66"/>
<rect x="146" y="526.1" width="1" height="15.8" fill="#000" fill-opacity="0.66"/>
<rect x="147" y="526.1" width="1" height="15.8" fill="#000" fill-opacity="0.47"/>
<rect x="148" y="526.1" width="1" height="15.8" fill="#000" fill-opacity="0.57"/>
<rect x="149" y="526.1" width="1" height="15.8" fill="#000" fill-opacity="0.10"/>
<rect x="150" y="526.1" width="1" height="15.8" fill="#000" fill-opacity="0.76"/>
<rect x="151" y="526.1" width="1" height="15.8" fill="#000" fill-opacity="0.10"/>
<rect x="152" y="526.1" width="1" height="15.8" fill="#000" fill-opacity="0.57"/>
<rect x="153" y="526.1" width="1" height="15.8" fill="#000" fill-opacity="0.10"/>
<rect x="154" y="526.1" width="1" height="15.8" fill="#000" fill-opacity="0.05"/>
<rect x="155" y="526.1" width="1" height="15.8" fill="#000" fill-opacity="0.76"/>
<rect x="156" y="526.1" width="1" height="15.8" fill="#000" fill-opacity="0.10"/>
<rect x="157" y="526.1" width="1" height="15.8" fill="#000" fill-opacity="0.57"/>
<rect x="158" y="526.1" width="1" height="15.8" fill="#000" fill-opacity="0.52"/>
<rect x="159" y="526.1" width="1" height="15.8" fill="#000" fill-opacity="0.57"/>
<rect x="160" y="526.1" width="1" height="15.8" fill="#000" fill-opacity="0.57"/>
<rect x="161" y="526.1" width="1" height="15.8" fill="#000" fill-opacity="0.66"/>
<rect x="51.7" y="0.7" width="689.65" height="541.1999999999999" fill="none" stroke="#333" stroke-width="1.4"/>
<path d="M81.45,541.9v6.6M317.4,541.9v6.6M553.4,541.9v6.6M51.7,517.8h-6.6M51.7,341.6h-6.6M51.7,165.5h-6.6" stroke="#222" stroke-width="2.0" fill="none"/>
<text class="tk" x="79.2" y="563.4" text-anchor="middle">0</text>
<text class="tk" x="310.2" y="563.4" text-anchor="middle">200</text>
<text class="tk" x="546.2" y="563.4" text-anchor="middle">400</text>
<text class="tk" x="40.6" y="522.8" text-anchor="end">0</text>
<text class="tk" x="40.6" y="346.6" text-anchor="end">10</text>
<text class="tk" x="40.6" y="170.5" text-anchor="end">20</text>
<text class="ti" x="396.5" y="585" text-anchor="middle">Distance to Seamounts (km)</text>
<text class="ti" style="font-size:20.45px" transform="translate(15.3,271.3) rotate(-90)" text-anchor="middle">Predicted Residence Time (hrs)</text>
<text class="tag" x="671.5" y="34" text-anchor="middle">a</text>
<path d="M854.0,231.2 L857.9,229.1 L861.8,226.8 L865.7,224.4 L869.6,221.9 L873.5,219.3 L877.4,216.6 L881.3,213.8 L885.2,210.8 L889.1,207.8 L893.0,204.7 L896.9,201.4 L900.8,198.1 L904.7,194.7 L908.6,191.2 L912.5,187.6 L916.4,184.0 L920.3,180.3 L924.2,176.4 L928.1,172.6 L932.0,168.6 L935.9,164.6 L939.8,160.5 L943.7,156.4 L947.6,152.2 L951.5,148.0 L955.4,143.7 L959.3,139.3 L963.2,135.0 L967.1,130.6 L971.0,126.2 L974.9,121.7 L978.8,117.3 L982.7,112.8 L986.6,108.4 L990.5,103.9 L994.4,99.4 L998.3,95.0 L1002.2,90.6 L1006.1,86.3 L1010.0,82.1 L1013.9,78.1 L1017.8,74.2 L1021.7,70.5 L1025.6,67.0 L1029.5,63.7 L1033.4,60.5 L1037.3,57.6 L1041.2,54.8 L1045.1,52.1 L1049.0,49.7 L1052.9,47.4 L1056.8,45.3 L1060.7,43.3 L1064.6,41.6 L1068.5,40.0 L1072.4,38.5 L1076.3,37.2 L1080.2,36.1 L1084.1,35.2 L1088.0,34.4 L1091.9,33.7 L1095.8,33.2 L1099.7,32.9 L1103.6,32.7 L1107.5,32.7 L1111.4,32.8 L1115.3,33.1 L1119.2,33.5 L1123.1,34.1 L1127.0,34.8 L1130.9,35.6 L1134.8,36.5 L1138.7,37.5 L1142.6,38.7 L1146.5,40.0 L1150.4,41.4 L1154.3,42.9 L1158.2,44.4 L1162.1,46.1 L1166.1,47.9 L1170.0,49.7 L1173.9,51.7 L1177.8,53.7 L1181.7,55.8 L1185.6,57.9 L1189.5,60.1 L1193.4,62.4 L1197.3,64.8 L1201.2,67.1 L1205.1,69.6 L1209.0,72.1 L1212.9,74.6 L1216.8,77.1 L1220.7,79.7 L1224.6,82.4 L1228.5,85.0 L1232.4,87.7 L1236.3,90.3 L1240.2,93.0 L1244.1,95.7 L1248.0,98.4 L1251.9,101.1 L1255.8,103.8 L1259.7,106.5 L1263.6,109.2 L1267.5,112.0 L1271.4,114.7 L1275.3,117.4 L1279.2,120.1 L1283.1,122.9 L1287.0,125.6 L1290.9,128.4 L1294.8,131.1 L1298.7,133.9 L1302.6,136.6 L1306.5,139.4 L1310.4,142.1 L1314.3,144.9 L1318.2,147.6 L1322.1,150.4 L1326.0,153.2 L1329.9,155.9 L1333.8,158.7 L1337.7,161.5 L1341.6,164.2 L1345.5,167.0 L1349.4,169.8 L1353.3,172.6 L1357.2,175.3 L1361.1,178.1 L1365.0,180.9 L1368.9,183.6 L1372.8,186.4 L1376.7,189.2 L1380.6,192.0 L1384.5,194.7 L1388.4,197.5 L1392.3,200.3 L1396.2,203.0 L1400.1,205.8 L1404.0,208.5 L1407.9,211.3 L1411.8,214.1 L1415.7,216.8 L1419.6,219.6 L1423.5,222.3 L1427.4,225.1 L1431.3,227.8 L1435.2,230.5 L1439.1,233.3 L1443.0,236.0 L1446.9,238.7 L1450.8,241.5 L1454.7,244.2 L1458.6,246.9 L1462.5,249.6 L1466.4,252.3 L1470.3,255.0 L1474.2,257.7 L1474.2,484.0 L1470.3,481.5 L1466.4,478.8 L1462.5,475.9 L1458.6,472.8 L1454.7,469.5 L1450.8,466.0 L1446.9,462.4 L1443.0,458.7 L1439.1,454.8 L1435.2,450.9 L1431.3,447.0 L1427.4,443.0 L1423.5,438.9 L1419.6,434.9 L1415.7,430.8 L1411.8,426.8 L1407.9,422.7 L1404.0,418.5 L1400.1,414.4 L1396.2,410.2 L1392.3,406.1 L1388.4,401.9 L1384.5,397.7 L1380.6,393.4 L1376.7,389.2 L1372.8,384.9 L1368.9,380.6 L1365.0,376.3 L1361.1,371.9 L1357.2,367.5 L1353.3,362.9 L1349.4,358.3 L1345.5,353.6 L1341.6,348.8 L1337.7,343.9 L1333.8,338.9 L1329.9,333.9 L1326.0,328.8 L1322.1,323.7 L1318.2,318.5 L1314.3,313.3 L1310.4,308.1 L1306.5,302.8 L1302.6,297.6 L1298.7,292.3 L1294.8,287.1 L1290.9,281.9 L1287.0,276.7 L1283.1,271.5 L1279.2,266.3 L1275.3,261.2 L1271.4,256.1 L1267.5,251.1 L1263.6,246.1 L1259.7,241.1 L1255.8,236.2 L1251.9,231.4 L1248.0,226.6 L1244.1,221.8 L1240.2,217.2 L1236.3,212.6 L1232.4,208.1 L1228.5,203.7 L1224.6,199.4 L1220.7,195.2 L1216.8,191.0 L1212.9,187.0 L1209.0,183.1 L1205.1,179.2 L1201.2,175.5 L1197.3,171.9 L1193.4,168.5 L1189.5,165.1 L1185.6,161.9 L1181.7,158.9 L1177.8,155.9 L1173.9,153.1 L1170.0,150.5 L1166.1,148.0 L1162.1,145.7 L1158.2,143.5 L1154.3,141.5 L1150.4,139.7 L1146.5,138.0 L1142.6,136.5 L1138.7,135.1 L1134.8,133.9 L1130.9,132.8 L1127.0,131.9 L1123.1,131.1 L1119.2,130.4 L1115.3,129.9 L1111.4,129.5 L1107.5,129.2 L1103.6,129.0 L1099.7,129.0 L1095.8,129.1 L1091.9,129.3 L1088.0,129.6 L1084.1,130.0 L1080.2,130.5 L1076.3,131.2 L1072.4,131.9 L1068.5,132.7 L1064.6,133.6 L1060.7,134.6 L1056.8,135.6 L1052.9,136.8 L1049.0,138.0 L1045.1,139.3 L1041.2,140.7 L1037.3,142.1 L1033.4,143.6 L1029.5,145.2 L1025.6,146.8 L1021.7,148.5 L1017.8,150.2 L1013.9,152.0 L1010.0,153.8 L1006.1,155.8 L1002.2,157.8 L998.3,160.0 L994.4,162.3 L990.5,164.8 L986.6,167.6 L982.7,170.5 L978.8,173.6 L974.9,176.9 L971.0,180.3 L967.1,183.8 L963.2,187.4 L959.3,191.2 L955.4,195.0 L951.5,198.8 L947.6,202.8 L943.7,206.8 L939.8,210.9 L935.9,215.0 L932.0,219.2 L928.1,223.5 L924.2,227.8 L920.3,232.2 L916.4,236.6 L912.5,241.0 L908.6,245.5 L904.7,250.0 L900.8,254.6 L896.9,259.1 L893.0,263.7 L889.1,268.3 L885.2,272.9 L881.3,277.5 L877.4,282.1 L873.5,286.7 L869.6,291.3 L865.7,295.9 L861.8,300.4 L857.9,305.0 L854.0,309.5Z" fill="#a0a0a0" fill-opacity="0.58"/>
<path d="M853.8,205.6 L856.2,203.8 L858.5,201.9 L860.9,200.0 L863.3,198.0 L865.7,195.9 L868.0,193.8 L870.4,191.6 L872.8,189.4 L875.1,187.1 L877.5,184.8 L879.9,182.5 L882.2,180.0 L884.6,177.6 L887.0,175.1 L889.4,172.6 L891.7,170.0 L894.1,167.4 L896.5,164.8 L898.8,162.1 L901.2,159.4 L903.6,156.7 L905.9,153.9 L908.3,151.2 L910.7,148.4 L913.1,145.5 L915.4,142.7 L917.8,139.9 L920.2,137.0 L922.5,134.1 L924.9,131.3 L927.3,128.4 L929.7,125.5 L932.0,122.6 L934.4,119.7 L936.8,116.8 L939.1,114.0 L941.5,111.2 L943.9,108.4 L946.2,105.7 L948.6,103.0 L951.0,100.4 L953.4,97.9 L955.7,95.4 L958.1,93.1 L960.5,90.8 L962.8,88.7 L965.2,86.6 L967.6,84.7 L970.0,82.9 L972.3,81.3 L974.7,79.8 L977.1,78.4 L979.4,77.2 L981.8,76.1 L984.2,75.2 L986.5,74.4 L988.9,73.7 L991.3,73.2 L993.7,72.9 L996.0,72.7 L998.4,72.6 L1000.8,72.8 L1003.1,73.0 L1005.5,73.5 L1007.9,74.1 L1010.2,74.8 L1012.6,75.7 L1015.0,76.8 L1017.4,78.0 L1019.7,79.3 L1022.1,80.7 L1024.5,82.2 L1026.8,83.9 L1029.2,85.6 L1031.6,87.5 L1034.0,89.4 L1036.3,91.5 L1038.7,93.6 L1041.1,95.7 L1043.4,98.0 L1045.8,100.2 L1048.2,102.6 L1050.5,105.0 L1052.9,107.4 L1055.3,109.9 L1057.7,112.5 L1060.0,115.1 L1062.4,117.7 L1064.8,120.4 L1067.1,123.1 L1069.5,125.8 L1071.9,128.6 L1074.3,131.4 L1076.6,134.2 L1079.0,137.1 L1081.4,140.0 L1083.7,142.9 L1086.1,145.8 L1088.5,148.7 L1090.8,151.7 L1093.2,154.6 L1095.6,157.6 L1098.0,160.6 L1100.3,163.5 L1102.7,166.5 L1105.1,169.5 L1107.4,172.5 L1109.8,175.5 L1112.2,178.4 L1114.5,181.4 L1116.9,184.3 L1119.3,187.3 L1121.7,190.2 L1124.0,193.1 L1126.4,196.0 L1128.8,198.9 L1131.1,201.7 L1133.5,204.6 L1135.9,207.4 L1138.3,210.2 L1140.6,213.1 L1143.0,215.9 L1145.4,218.7 L1147.7,221.6 L1150.1,224.4 L1152.5,227.3 L1154.8,230.1 L1157.2,233.0 L1159.6,235.8 L1162.0,238.7 L1164.3,241.6 L1166.7,244.6 L1169.1,247.5 L1171.4,250.5 L1173.8,253.4 L1176.2,256.4 L1178.6,259.5 L1180.9,262.6 L1183.3,265.6 L1185.7,268.7 L1188.0,271.9 L1190.4,275.0 L1192.8,278.1 L1195.1,281.2 L1197.5,284.3 L1199.9,287.4 L1202.3,290.5 L1204.6,293.6 L1207.0,296.6 L1209.4,299.7 L1211.7,302.6 L1214.1,305.6 L1216.5,308.5 L1218.8,311.3 L1221.2,314.1 L1223.6,316.8 L1226.0,319.5 L1228.3,322.1 L1230.7,324.6 L1230.8,518.6 L1228.4,516.3 L1226.1,513.9 L1223.7,511.3 L1221.3,508.6 L1219.0,505.8 L1216.6,502.9 L1214.2,499.9 L1211.8,496.9 L1209.5,493.7 L1207.1,490.5 L1204.7,487.2 L1202.4,483.9 L1200.0,480.5 L1197.6,477.0 L1195.3,473.6 L1192.9,470.1 L1190.5,466.6 L1188.1,463.1 L1185.8,459.6 L1183.4,456.1 L1181.0,452.6 L1178.7,449.0 L1176.3,445.4 L1173.9,441.7 L1171.6,437.9 L1169.2,434.0 L1166.8,430.0 L1164.4,425.9 L1162.1,421.6 L1159.7,417.1 L1157.3,412.6 L1155.0,408.0 L1152.6,403.2 L1150.2,398.5 L1147.9,393.7 L1145.5,389.0 L1143.1,384.2 L1140.7,379.5 L1138.4,374.7 L1136.0,370.0 L1133.6,365.2 L1131.3,360.4 L1128.9,355.6 L1126.5,350.7 L1124.2,345.8 L1121.8,340.8 L1119.4,335.7 L1117.0,330.5 L1114.7,325.3 L1112.3,320.1 L1109.9,315.0 L1107.6,309.9 L1105.2,304.8 L1102.8,299.9 L1100.5,295.1 L1098.1,290.4 L1095.7,285.8 L1093.4,281.3 L1091.0,276.8 L1088.6,272.4 L1086.2,268.1 L1083.9,263.7 L1081.5,259.4 L1079.1,255.1 L1076.8,250.8 L1074.4,246.6 L1072.0,242.4 L1069.7,238.2 L1067.3,234.1 L1064.9,230.1 L1062.5,226.1 L1060.2,222.2 L1057.8,218.4 L1055.4,214.7 L1053.1,211.0 L1050.7,207.5 L1048.3,204.0 L1046.0,200.7 L1043.6,197.5 L1041.2,194.4 L1038.8,191.4 L1036.5,188.6 L1034.1,186.0 L1031.7,183.5 L1029.4,181.1 L1027.0,179.0 L1024.6,177.0 L1022.3,175.2 L1019.9,173.5 L1017.5,172.0 L1015.1,170.6 L1012.8,169.4 L1010.4,168.2 L1008.0,167.2 L1005.7,166.3 L1003.3,165.5 L1000.9,164.7 L998.6,164.1 L996.2,163.5 L993.8,162.9 L991.4,162.5 L989.1,162.0 L986.7,161.7 L984.3,161.4 L982.0,161.2 L979.6,161.1 L977.2,161.0 L974.9,161.1 L972.5,161.2 L970.1,161.4 L967.8,161.7 L965.4,162.0 L963.0,162.5 L960.6,163.1 L958.3,163.8 L955.9,164.6 L953.5,165.5 L951.2,166.5 L948.8,167.6 L946.4,168.9 L944.1,170.3 L941.7,171.8 L939.3,173.4 L936.9,175.2 L934.6,177.1 L932.2,179.1 L929.8,181.3 L927.5,183.6 L925.1,186.1 L922.7,188.7 L920.4,191.4 L918.0,194.3 L915.6,197.2 L913.2,200.2 L910.9,203.3 L908.5,206.4 L906.1,209.6 L903.8,212.8 L901.4,216.0 L899.0,219.2 L896.7,222.4 L894.3,225.7 L891.9,229.0 L889.5,232.3 L887.2,235.6 L884.8,239.0 L882.4,242.4 L880.1,245.8 L877.7,249.4 L875.3,252.9 L873.0,256.6 L870.6,260.3 L868.2,264.1 L865.8,267.9 L863.5,271.8 L861.1,275.9 L858.7,280.0 L856.4,284.2 L854.0,288.5Z" fill="#a0a0a0" fill-opacity="0.58"/>
<path d="M853.8,147.5 L856.0,148.6 L858.2,149.6 L860.4,150.5 L862.6,151.3 L864.8,152.1 L867.1,152.7 L869.3,153.4 L871.5,153.9 L873.7,154.4 L875.9,154.8 L878.1,155.1 L880.3,155.4 L882.5,155.6 L884.7,155.8 L886.9,155.8 L889.1,155.9 L891.4,155.9 L893.6,155.8 L895.8,155.7 L898.0,155.5 L900.2,155.3 L902.4,155.1 L904.6,154.8 L906.8,154.4 L909.0,154.0 L911.2,153.6 L913.4,153.2 L915.7,152.7 L917.9,152.2 L920.1,151.6 L922.3,151.0 L924.5,150.4 L926.7,149.8 L928.9,149.2 L931.1,148.5 L933.3,147.8 L935.5,147.2 L937.7,146.5 L940.0,145.9 L942.2,145.2 L944.4,144.6 L946.6,144.0 L948.8,143.4 L951.0,142.9 L953.2,142.4 L955.4,141.9 L957.6,141.4 L959.8,141.0 L962.0,140.7 L964.3,140.4 L966.5,140.2 L968.7,140.0 L970.9,139.9 L973.1,139.9 L975.3,139.9 L977.5,140.0 L979.7,140.2 L981.9,140.4 L984.1,140.7 L986.3,141.0 L988.6,141.3 L990.8,141.7 L993.0,142.0 L995.2,142.4 L997.4,142.8 L999.6,143.3 L1001.8,143.7 L1004.0,144.1 L1006.2,144.5 L1008.4,144.9 L1010.6,145.3 L1012.9,145.7 L1015.1,146.1 L1017.3,146.5 L1019.5,146.9 L1021.7,147.3 L1023.9,147.6 L1026.1,148.0 L1028.3,148.4 L1030.5,148.8 L1032.7,149.1 L1034.9,149.5 L1037.2,149.9 L1039.4,150.3 L1041.6,150.6 L1043.8,151.0 L1046.0,151.3 L1048.2,151.7 L1050.4,152.0 L1052.6,152.4 L1054.8,152.7 L1057.0,153.1 L1059.2,153.4 L1061.5,153.8 L1063.7,154.1 L1065.9,154.4 L1068.1,154.8 L1070.3,155.1 L1072.5,155.4 L1074.7,155.7 L1076.9,156.1 L1079.1,156.4 L1081.3,156.7 L1083.5,157.0 L1085.8,157.3 L1088.0,157.6 L1090.2,157.9 L1092.4,158.2 L1094.6,158.5 L1096.8,158.8 L1099.0,159.1 L1101.2,159.4 L1103.4,159.7 L1105.6,160.0 L1107.8,160.3 L1110.1,160.5 L1112.3,160.8 L1114.5,161.1 L1116.7,161.4 L1118.9,161.6 L1121.1,161.9 L1123.3,162.2 L1125.5,162.4 L1127.7,162.7 L1129.9,162.9 L1132.1,163.2 L1134.4,163.5 L1136.6,163.7 L1138.8,163.9 L1141.0,164.2 L1143.2,164.4 L1145.4,164.7 L1147.6,164.9 L1149.8,165.1 L1152.0,165.4 L1154.2,165.6 L1156.4,165.8 L1158.7,166.0 L1160.9,166.3 L1163.1,166.5 L1165.3,166.7 L1167.5,166.9 L1169.7,167.1 L1171.9,167.3 L1174.1,167.5 L1176.3,167.7 L1178.5,167.9 L1180.7,168.1 L1183.0,168.3 L1185.2,168.5 L1187.4,168.7 L1189.6,168.9 L1191.8,169.1 L1194.0,169.2 L1196.2,169.4 L1198.4,169.6 L1200.6,169.8 L1202.8,169.9 L1205.0,170.1 L1205.0,475.3 L1202.7,473.1 L1200.5,470.9 L1198.3,468.6 L1196.1,466.2 L1193.9,463.7 L1191.7,461.1 L1189.5,458.5 L1187.3,455.8 L1185.1,453.0 L1182.9,450.2 L1180.7,447.4 L1178.4,444.5 L1176.2,441.5 L1174.0,438.5 L1171.8,435.5 L1169.6,432.4 L1167.4,429.3 L1165.2,426.2 L1163.0,423.1 L1160.8,420.0 L1158.6,416.8 L1156.4,413.7 L1154.2,410.5 L1151.9,407.4 L1149.7,404.2 L1147.5,401.1 L1145.3,397.9 L1143.1,394.8 L1140.9,391.7 L1138.7,388.6 L1136.5,385.6 L1134.3,382.5 L1132.1,379.4 L1129.9,376.4 L1127.7,373.3 L1125.4,370.3 L1123.2,367.2 L1121.0,364.2 L1118.8,361.1 L1116.6,358.1 L1114.4,355.0 L1112.2,351.9 L1110.0,348.9 L1107.8,345.8 L1105.6,342.7 L1103.4,339.6 L1101.2,336.6 L1098.9,333.6 L1096.7,330.6 L1094.5,327.6 L1092.3,324.6 L1090.1,321.7 L1087.9,318.8 L1085.7,316.0 L1083.5,313.2 L1081.3,310.4 L1079.1,307.7 L1076.9,305.1 L1074.6,302.5 L1072.4,299.9 L1070.2,297.4 L1068.0,294.9 L1065.8,292.5 L1063.6,290.1 L1061.4,287.8 L1059.2,285.5 L1057.0,283.2 L1054.8,281.0 L1052.6,278.9 L1050.4,276.7 L1048.1,274.7 L1045.9,272.6 L1043.7,270.6 L1041.5,268.6 L1039.3,266.7 L1037.1,264.8 L1034.9,262.9 L1032.7,261.1 L1030.5,259.3 L1028.3,257.6 L1026.1,255.9 L1023.9,254.2 L1021.6,252.5 L1019.4,250.9 L1017.2,249.3 L1015.0,247.7 L1012.8,246.2 L1010.6,244.7 L1008.4,243.2 L1006.2,241.8 L1004.0,240.4 L1001.8,239.0 L999.6,237.6 L997.4,236.3 L995.1,235.0 L992.9,233.7 L990.7,232.4 L988.5,231.2 L986.3,230.0 L984.1,228.8 L981.9,227.6 L979.7,226.4 L977.5,225.3 L975.3,224.2 L973.1,223.2 L970.9,222.1 L968.6,221.1 L966.4,220.2 L964.2,219.2 L962.0,218.3 L959.8,217.4 L957.6,216.6 L955.4,215.7 L953.2,215.0 L951.0,214.2 L948.8,213.5 L946.6,212.8 L944.3,212.1 L942.1,211.5 L939.9,210.9 L937.7,210.4 L935.5,209.9 L933.3,209.4 L931.1,209.0 L928.9,208.6 L926.7,208.3 L924.5,208.0 L922.3,207.7 L920.1,207.5 L917.8,207.3 L915.6,207.2 L913.4,207.1 L911.2,207.1 L909.0,207.2 L906.8,207.3 L904.6,207.5 L902.4,207.7 L900.2,208.1 L898.0,208.5 L895.8,208.9 L893.6,209.5 L891.3,210.1 L889.1,210.8 L886.9,211.5 L884.7,212.4 L882.5,213.3 L880.3,214.3 L878.1,215.3 L875.9,216.5 L873.7,217.7 L871.5,219.0 L869.3,220.3 L867.1,221.8 L864.8,223.3 L862.6,224.9 L860.4,226.6 L858.2,228.4 L856.0,230.3 L853.8,232.2Z" fill="#a0a0a0" fill-opacity="0.58"/>
<path d="M853.8,270.2 L856.9,267.6 L860.0,265.0 L863.2,262.2 L866.3,259.5 L869.4,256.7 L872.5,253.8 L875.6,250.9 L878.7,248.0 L881.9,245.0 L885.0,241.9 L888.1,238.9 L891.2,235.8 L894.3,232.7 L897.4,229.5 L900.6,226.3 L903.7,223.1 L906.8,219.9 L909.9,216.7 L913.0,213.4 L916.2,210.2 L919.3,206.9 L922.4,203.6 L925.5,200.3 L928.6,197.0 L931.7,193.7 L934.9,190.4 L938.0,187.2 L941.1,183.9 L944.2,180.6 L947.3,177.4 L950.4,174.2 L953.6,170.9 L956.7,167.7 L959.8,164.6 L962.9,161.4 L966.0,158.3 L969.2,155.2 L972.3,152.2 L975.4,149.1 L978.5,146.2 L981.6,143.2 L984.7,140.3 L987.9,137.5 L991.0,134.7 L994.1,131.9 L997.2,129.2 L1000.3,126.6 L1003.4,124.0 L1006.6,121.4 L1009.7,119.0 L1012.8,116.6 L1015.9,114.2 L1019.0,111.9 L1022.1,109.7 L1025.3,107.6 L1028.4,105.5 L1031.5,103.5 L1034.6,101.6 L1037.7,99.7 L1040.9,98.0 L1044.0,96.3 L1047.1,94.6 L1050.2,93.1 L1053.3,91.7 L1056.4,90.3 L1059.6,89.0 L1062.7,87.8 L1065.8,86.7 L1068.9,85.7 L1072.0,84.8 L1075.1,84.0 L1078.3,83.2 L1081.4,82.6 L1084.5,82.0 L1087.6,81.5 L1090.7,81.1 L1093.9,80.8 L1097.0,80.6 L1100.1,80.5 L1103.2,80.5 L1106.3,80.6 L1109.4,80.8 L1112.6,81.0 L1115.7,81.4 L1118.8,81.8 L1121.9,82.3 L1125.0,83.0 L1128.1,83.7 L1131.3,84.5 L1134.4,85.4 L1137.5,86.3 L1140.6,87.4 L1143.7,88.6 L1146.9,89.8 L1150.0,91.1 L1153.1,92.5 L1156.2,94.0 L1159.3,95.6 L1162.4,97.2 L1165.6,98.9 L1168.7,100.7 L1171.8,102.5 L1174.9,104.4 L1178.0,106.4 L1181.1,108.4 L1184.3,110.5 L1187.4,112.7 L1190.5,114.9 L1193.6,117.1 L1196.7,119.4 L1199.9,121.8 L1203.0,124.2 L1206.1,126.7 L1209.2,129.2 L1212.3,131.8 L1215.4,134.4 L1218.6,137.0 L1221.7,139.7 L1224.8,142.4 L1227.9,145.1 L1231.0,147.9 L1234.1,150.7 L1237.3,153.6 L1240.4,156.5 L1243.5,159.4 L1246.6,162.3 L1249.7,165.3 L1252.9,168.3 L1256.0,171.3 L1259.1,174.3 L1262.2,177.4 L1265.3,180.4 L1268.4,183.5 L1271.6,186.6 L1274.7,189.8 L1277.8,192.9 L1280.9,196.1 L1284.0,199.2 L1287.1,202.4 L1290.3,205.6 L1293.4,208.8 L1296.5,212.0 L1299.6,215.2 L1302.7,218.4 L1305.9,221.6 L1309.0,224.8 L1312.1,228.0 L1315.2,231.3 L1318.3,234.5 L1321.4,237.7 L1324.6,240.9 L1327.7,244.1 L1330.8,247.2 L1333.9,250.4 L1337.0,253.6 L1340.1,256.7 L1343.3,259.9 L1346.4,263.0 L1349.5,266.1 L1352.6,269.2 L1355.7,272.3 L1358.8,275.3 L1362.0,278.3 L1365.1,281.3 L1368.2,284.3 L1371.3,287.3 L1374.4,290.2 L1377.6,293.1 L1380.7,296.0 L1383.8,298.8 L1386.9,301.6 L1390.0,304.4 L1393.1,307.2 L1396.3,309.9 L1399.4,312.6 L1402.5,315.3 L1405.6,317.9 L1408.7,320.5 L1411.8,323.1 L1415.0,325.7 L1418.1,328.2 L1421.2,330.8 L1424.3,333.2 L1427.4,335.7 L1430.6,338.2 L1433.7,340.6 L1436.8,343.0 L1439.9,345.4 L1443.0,347.8 L1446.1,350.1 L1449.3,352.5 L1452.4,354.8 L1455.5,357.1 L1458.6,359.4 L1461.7,361.6 L1464.8,363.9 L1468.0,366.1 L1471.1,368.4 L1474.2,370.6" fill="none" stroke="#000" stroke-width="3.2"/>
<path d="M853.8,246.0 L855.7,244.0 L857.6,242.0 L859.5,239.9 L861.4,237.7 L863.3,235.6 L865.2,233.4 L867.1,231.2 L869.0,228.9 L870.8,226.6 L872.7,224.3 L874.6,222.0 L876.5,219.7 L878.4,217.3 L880.3,214.9 L882.2,212.5 L884.1,210.1 L886.0,207.7 L887.9,205.3 L889.8,202.9 L891.7,200.4 L893.6,198.0 L895.5,195.6 L897.4,193.1 L899.3,190.7 L901.1,188.3 L903.0,185.9 L904.9,183.5 L906.8,181.1 L908.7,178.7 L910.6,176.3 L912.5,174.0 L914.4,171.7 L916.3,169.4 L918.2,167.1 L920.1,164.9 L922.0,162.7 L923.9,160.5 L925.8,158.3 L927.7,156.2 L929.6,154.1 L931.5,152.1 L933.3,150.1 L935.2,148.1 L937.1,146.2 L939.0,144.4 L940.9,142.5 L942.8,140.8 L944.7,139.1 L946.6,137.4 L948.5,135.8 L950.4,134.3 L952.3,132.8 L954.2,131.4 L956.1,130.0 L958.0,128.7 L959.9,127.5 L961.8,126.4 L963.7,125.3 L965.5,124.3 L967.4,123.3 L969.3,122.4 L971.2,121.6 L973.1,120.9 L975.0,120.3 L976.9,119.7 L978.8,119.2 L980.7,118.7 L982.6,118.4 L984.5,118.1 L986.4,117.9 L988.3,117.7 L990.2,117.7 L992.1,117.7 L994.0,117.8 L995.8,118.0 L997.7,118.3 L999.6,118.6 L1001.5,119.0 L1003.4,119.5 L1005.3,120.1 L1007.2,120.8 L1009.1,121.5 L1011.0,122.3 L1012.9,123.2 L1014.8,124.2 L1016.7,125.3 L1018.6,126.4 L1020.5,127.6 L1022.4,128.9 L1024.3,130.2 L1026.2,131.7 L1028.0,133.1 L1029.9,134.7 L1031.8,136.3 L1033.7,138.0 L1035.6,139.8 L1037.5,141.6 L1039.4,143.4 L1041.3,145.4 L1043.2,147.4 L1045.1,149.4 L1047.0,151.5 L1048.9,153.7 L1050.8,155.9 L1052.7,158.2 L1054.6,160.5 L1056.5,162.9 L1058.3,165.3 L1060.2,167.8 L1062.1,170.3 L1064.0,172.8 L1065.9,175.4 L1067.8,178.1 L1069.7,180.8 L1071.6,183.5 L1073.5,186.2 L1075.4,189.0 L1077.3,191.9 L1079.2,194.7 L1081.1,197.6 L1083.0,200.6 L1084.9,203.5 L1086.8,206.5 L1088.7,209.5 L1090.5,212.5 L1092.4,215.6 L1094.3,218.7 L1096.2,221.8 L1098.1,224.9 L1100.0,228.0 L1101.9,231.2 L1103.8,234.4 L1105.7,237.5 L1107.6,240.7 L1109.5,243.9 L1111.4,247.2 L1113.3,250.4 L1115.2,253.6 L1117.1,256.8 L1119.0,260.1 L1120.8,263.3 L1122.7,266.6 L1124.6,269.8 L1126.5,273.0 L1128.4,276.3 L1130.3,279.5 L1132.2,282.7 L1134.1,286.0 L1136.0,289.2 L1137.9,292.4 L1139.8,295.6 L1141.7,298.7 L1143.6,301.9 L1145.5,305.0 L1147.4,308.2 L1149.3,311.3 L1151.2,314.4 L1153.0,317.4 L1154.9,320.5 L1156.8,323.5 L1158.7,326.5 L1160.6,329.5 L1162.5,332.5 L1164.4,335.4 L1166.3,338.4 L1168.2,341.3 L1170.1,344.2 L1172.0,347.0 L1173.9,349.8 L1175.8,352.6 L1177.7,355.4 L1179.6,358.2 L1181.5,360.9 L1183.4,363.6 L1185.2,366.3 L1187.1,368.9 L1189.0,371.6 L1190.9,374.1 L1192.8,376.7 L1194.7,379.2 L1196.6,381.7 L1198.5,384.2 L1200.4,386.7 L1202.3,389.1 L1204.2,391.4 L1206.1,393.8 L1208.0,396.1 L1209.9,398.4 L1211.8,400.6 L1213.7,402.8 L1215.5,405.0 L1217.4,407.1 L1219.3,409.2 L1221.2,411.3 L1223.1,413.3 L1225.0,415.3 L1226.9,417.3 L1228.8,419.2 L1230.7,421.1" fill="none" stroke="#000" stroke-width="3.2" stroke-dasharray="6.36 6.36"/>
<path d="M853.8,189.9 L855.6,189.5 L857.3,189.1 L859.1,188.7 L860.9,188.3 L862.6,187.9 L864.4,187.5 L866.2,187.1 L867.9,186.7 L869.7,186.3 L871.5,185.9 L873.2,185.5 L875.0,185.2 L876.7,184.8 L878.5,184.5 L880.3,184.1 L882.0,183.8 L883.8,183.5 L885.6,183.1 L887.3,182.8 L889.1,182.5 L890.9,182.2 L892.6,181.9 L894.4,181.6 L896.2,181.4 L897.9,181.1 L899.7,180.8 L901.5,180.6 L903.2,180.3 L905.0,180.1 L906.8,179.9 L908.5,179.7 L910.3,179.5 L912.0,179.3 L913.8,179.1 L915.6,178.9 L917.3,178.8 L919.1,178.6 L920.9,178.5 L922.6,178.4 L924.4,178.3 L926.2,178.2 L927.9,178.1 L929.7,178.0 L931.5,178.0 L933.2,177.9 L935.0,177.9 L936.8,177.8 L938.5,177.8 L940.3,177.8 L942.1,177.9 L943.8,177.9 L945.6,177.9 L947.3,178.0 L949.1,178.1 L950.9,178.2 L952.6,178.3 L954.4,178.4 L956.2,178.5 L957.9,178.7 L959.7,178.9 L961.5,179.0 L963.2,179.2 L965.0,179.5 L966.8,179.7 L968.5,179.9 L970.3,180.2 L972.1,180.5 L973.8,180.8 L975.6,181.1 L977.4,181.5 L979.1,181.8 L980.9,182.2 L982.7,182.6 L984.4,183.0 L986.2,183.4 L987.9,183.9 L989.7,184.4 L991.5,184.8 L993.2,185.4 L995.0,185.9 L996.8,186.4 L998.5,187.0 L1000.3,187.6 L1002.1,188.2 L1003.8,188.8 L1005.6,189.5 L1007.4,190.2 L1009.1,190.9 L1010.9,191.6 L1012.7,192.3 L1014.4,193.1 L1016.2,193.9 L1018.0,194.7 L1019.7,195.5 L1021.5,196.4 L1023.2,197.3 L1025.0,198.2 L1026.8,199.1 L1028.5,200.0 L1030.3,201.0 L1032.1,202.0 L1033.8,203.0 L1035.6,204.1 L1037.4,205.2 L1039.1,206.2 L1040.9,207.3 L1042.7,208.5 L1044.4,209.6 L1046.2,210.8 L1048.0,211.9 L1049.7,213.1 L1051.5,214.3 L1053.3,215.5 L1055.0,216.7 L1056.8,218.0 L1058.5,219.2 L1060.3,220.4 L1062.1,221.7 L1063.8,222.9 L1065.6,224.2 L1067.4,225.4 L1069.1,226.6 L1070.9,227.9 L1072.7,229.1 L1074.4,230.4 L1076.2,231.6 L1078.0,232.8 L1079.7,234.0 L1081.5,235.3 L1083.3,236.5 L1085.0,237.7 L1086.8,238.9 L1088.6,240.2 L1090.3,241.4 L1092.1,242.6 L1093.9,243.8 L1095.6,245.0 L1097.4,246.2 L1099.1,247.5 L1100.9,248.7 L1102.7,249.9 L1104.4,251.1 L1106.2,252.3 L1108.0,253.6 L1109.7,254.8 L1111.5,256.0 L1113.3,257.3 L1115.0,258.5 L1116.8,259.7 L1118.6,261.0 L1120.3,262.2 L1122.1,263.5 L1123.9,264.7 L1125.6,266.0 L1127.4,267.2 L1129.2,268.5 L1130.9,269.7 L1132.7,271.0 L1134.4,272.3 L1136.2,273.5 L1138.0,274.8 L1139.7,276.1 L1141.5,277.4 L1143.3,278.7 L1145.0,279.9 L1146.8,281.2 L1148.6,282.5 L1150.3,283.8 L1152.1,285.0 L1153.9,286.3 L1155.6,287.6 L1157.4,288.9 L1159.2,290.2 L1160.9,291.4 L1162.7,292.7 L1164.5,294.0 L1166.2,295.2 L1168.0,296.5 L1169.7,297.8 L1171.5,299.0 L1173.3,300.3 L1175.0,301.5 L1176.8,302.8 L1178.6,304.0 L1180.3,305.3 L1182.1,306.5 L1183.9,307.8 L1185.6,309.0 L1187.4,310.2 L1189.2,311.4 L1190.9,312.6 L1192.7,313.8 L1194.5,315.0 L1196.2,316.2 L1198.0,317.4 L1199.8,318.6 L1201.5,319.8 L1203.3,320.9 L1205.0,322.1" fill="none" stroke="#000" stroke-width="3.2" stroke-dasharray="12.7 6.36"/>
<path d="M933.10,527.1V543M937.40,527.1V543M939.50,527.1V543M943.90,527.1V543M945.00,527.1V543M949.50,527.1V543M952.90,527.1V543M956.00,527.1V543M959.10,527.1V543M960.60,527.1V543M963.60,527.1V543M966.60,527.1V543M968.30,527.1V543M970.60,527.1V543M972.50,527.1V543M977.40,527.1V543M979.80,527.1V543M983.00,527.1V543M987.10,527.1V543M992.20,527.1V543M994.60,527.1V543M1001.00,527.1V543M1004.90,527.1V543M1009.25,527.1V543M1015.50,527.1V543M1020.00,527.1V543M1027.00,527.1V543M1034.50,527.1V543M1042.50,527.1V543M1051.25,527.1V543M1056.75,527.1V543M1063.00,527.1V543M1072.00,527.1V543M1084.50,527.1V543M1095.25,527.1V543M1110.00,527.1V543M1120.50,527.1V543M1134.50,527.1V543M1146.75,527.1V543M1155.25,527.1V543M1168.00,527.1V543M1182.00,527.1V543M1188.25,527.1V543M1194.50,527.1V543M1210.75,527.1V543M1225.75,527.1V543M1237.75,527.1V543M1277.00,527.1V543M1304.50,527.1V543M1333.75,527.1V543M1370.00,527.1V543M1473.70,527.1V543" stroke="#000" stroke-width="1.0" stroke-opacity="0.92" fill="none"/>
<rect x="853" y="527.1" width="1" height="15.9" fill="#000" fill-opacity="0.47"/>
<rect x="854" y="527.1" width="1" height="15.9" fill="#000" fill-opacity="0.43"/>
<rect x="856" y="527.1" width="1" height="15.9" fill="#000" fill-opacity="0.43"/>
<rect x="857" y="527.1" width="1" height="15.9" fill="#000" fill-opacity="0.47"/>
<rect x="858" y="527.1" width="1" height="15.9" fill="#000" fill-opacity="0.05"/>
<rect x="859" y="527.1" width="1" height="15.9" fill="#000" fill-opacity="0.66"/>
<rect x="860" y="527.1" width="1" height="15.9" fill="#000" fill-opacity="0.10"/>
<rect x="861" y="527.1" width="1" height="15.9" fill="#000" fill-opacity="0.66"/>
<rect x="862" y="527.1" width="1" height="15.9" fill="#000" fill-opacity="0.10"/>
<rect x="863" y="527.1" width="1" height="15.9" fill="#000" fill-opacity="0.52"/>
<rect x="864" y="527.1" width="1" height="15.9" fill="#000" fill-opacity="0.57"/>
<rect x="865" y="527.1" width="1" height="15.9" fill="#000" fill-opacity="0.90"/>
<rect x="866" y="527.1" width="1" height="15.9" fill="#000" fill-opacity="0.47"/>
<rect x="867" y="527.1" width="1" height="15.9" fill="#000" fill-opacity="0.47"/>
<rect x="868" y="527.1" width="1" height="15.9" fill="#000" fill-opacity="0.47"/>
<rect x="869" y="527.1" width="1" height="15.9" fill="#000" fill-opacity="0.90"/>
<rect x="870" y="527.1" width="1" height="15.9" fill="#000" fill-opacity="0.47"/>
<rect x="871" y="527.1" width="1" height="15.9" fill="#000" fill-opacity="0.52"/>
<rect x="872" y="527.1" width="1" height="15.9" fill="#000" fill-opacity="0.81"/>
<rect x="873" y="527.1" width="1" height="15.9" fill="#000" fill-opacity="0.85"/>
<rect x="874" y="527.1" width="1" height="15.9" fill="#000" fill-opacity="0.19"/>
<rect x="875" y="527.1" width="1" height="15.9" fill="#000" fill-opacity="0.76"/>
<rect x="876" y="527.1" width="1" height="15.9" fill="#000" fill-opacity="0.90"/>
<rect x="877" y="527.1" width="1" height="15.9" fill="#000" fill-opacity="0.57"/>
<rect x="878" y="527.1" width="1" height="15.9" fill="#000" fill-opacity="0.47"/>
<rect x="879" y="527.1" width="1" height="15.9" fill="#000" fill-opacity="0.43"/>
<rect x="880" y="527.1" width="1" height="15.9" fill="#000" fill-opacity="0.52"/>
<rect x="881" y="527.1" width="1" height="15.9" fill="#000" fill-opacity="0.52"/>
<rect x="882" y="527.1" width="1" height="15.9" fill="#000" fill-opacity="0.66"/>
<rect x="883" y="527.1" width="1" height="15.9" fill="#000" fill-opacity="0.71"/>
<rect x="884" y="527.1" width="1" height="15.9" fill="#000" fill-opacity="0.52"/>
<rect x="885" y="527.1" width="1" height="15.9" fill="#000" fill-opacity="0.57"/>
<rect x="886" y="527.1" width="1" height="15.9" fill="#000" fill-opacity="0.85"/>
<rect x="888" y="527.1" width="1" height="15.9" fill="#000" fill-opacity="0.66"/>
<rect x="889" y="527.1" width="1" height="15.9" fill="#000" fill-opacity="0.10"/>
<rect x="890" y="527.1" width="1" height="15.9" fill="#000" fill-opacity="0.90"/>
<rect x="891" y="527.1" width="1" height="15.9" fill="#000" fill-opacity="0.95"/>
<rect x="892" y="527.1" width="1" height="15.9" fill="#000" fill-opacity="0.95"/>
<rect x="893" y="527.1" width="1" height="15.9" fill="#000" fill-opacity="0.10"/>
<rect x="894" y="527.1" width="1" height="15.9" fill="#000" fill-opacity="0.57"/>
<rect x="895" y="527.1" width="1" height="15.9" fill="#000" fill-opacity="0.28"/>
<rect x="896" y="527.1" width="1" height="15.9" fill="#000" fill-opacity="0.43"/>
<rect x="897" y="527.1" width="1" height="15.9" fill="#000" fill-opacity="0.38"/>
<rect x="898" y="527.1" width="1" height="15.9" fill="#000" fill-opacity="0.33"/>
<rect x="899" y="527.1" width="1" height="15.9" fill="#000" fill-opacity="0.33"/>
<rect x="900" y="527.1" width="1" height="15.9" fill="#000" fill-opacity="0.85"/>
<rect x="901" y="527.1" width="1" height="15.9" fill="#000" fill-opacity="0.90"/>
<rect x="902" y="527.1" width="1" height="15.9" fill="#000" fill-opacity="0.85"/>
<rect x="903" y="527.1" width="1" height="15.9" fill="#000" fill-opacity="0.47"/>
<rect x="904" y="527.1" width="1" height="15.9" fill="#000" fill-opacity="0.47"/>
<rect x="905" y="527.1" width="1" height="15.9" fill="#000" fill-opacity="0.14"/>
<rect x="906" y="527.1" width="1" height="15.9" fill="#000" fill-opacity="0.05"/>
<rect x="907" y="527.1" width="1" height="15.9" fill="#000" fill-opacity="0.71"/>
<rect x="908" y="527.1" width="1" height="15.9" fill="#000" fill-opacity="0.57"/>
<rect x="909" y="527.1" width="1" height="15.9" fill="#000" fill-opacity="0.10"/>
<rect x="910" y="527.1" width="1" height="15.9" fill="#000" fill-opacity="0.81"/>
<rect x="911" y="527.1" width="1" height="15.9" fill="#000" fill-opacity="0.85"/>
<rect x="912" y="527.1" width="1" height="15.9" fill="#000" fill-opacity="0.76"/>
<rect x="913" y="527.1" width="1" height="15.9" fill="#000" fill-opacity="0.57"/>
<rect x="914" y="527.1" width="1" height="15.9" fill="#000" fill-opacity="0.52"/>
<rect x="915" y="527.1" width="1" height="15.9" fill="#000" fill-opacity="0.57"/>
<rect x="916" y="527.1" width="1" height="15.9" fill="#000" fill-opacity="0.52"/>
<rect x="917" y="527.1" width="1" height="15.9" fill="#000" fill-opacity="0.47"/>
<rect x="918" y="527.1" width="1" height="15.9" fill="#000" fill-opacity="0.57"/>
<rect x="919" y="527.1" width="1" height="15.9" fill="#000" fill-opacity="0.10"/>
<rect x="920" y="527.1" width="1" height="15.9" fill="#000" fill-opacity="0.85"/>
<rect x="921" y="527.1" width="1" height="15.9" fill="#000" fill-opacity="0.10"/>
<rect x="922" y="527.1" width="1" height="15.9" fill="#000" fill-opacity="0.62"/>
<rect x="923" y="527.1" width="1" height="15.9" fill="#000" fill-opacity="0.66"/>
<rect x="924" y="527.1" width="1" height="15.9" fill="#000" fill-opacity="0.71"/>
<rect x="925" y="527.1" width="1" height="15.9" fill="#000" fill-opacity="0.05"/>
<rect x="927" y="527.1" width="1" height="15.9" fill="#000" fill-opacity="0.47"/>
<rect x="928" y="527.1" width="1" height="15.9" fill="#000" fill-opacity="0.52"/>
<rect x="929" y="527.1" width="1" height="15.9" fill="#000" fill-opacity="0.10"/>
<rect x="930" y="527.1" width="1" height="15.9" fill="#000" fill-opacity="0.81"/>
<rect x="931" y="527.1" width="1" height="15.9" fill="#000" fill-opacity="0.19"/>
<rect x="822.3" y="2.0" width="682.0" height="541.0" fill="none" stroke="#333" stroke-width="1.4"/>
<path d="M851.3,543.0v6.6M972.5,543.0v6.6M1093.8,543.0v6.6M1215,543.0v6.6M1336.3,543.0v6.6M1457.5,543.0v6.6M822.3,451.6h-6.6M822.3,309.6h-6.6M822.3,167.4h-6.6M822.3,25.9h-6.6" stroke="#222" stroke-width="2.0" fill="none"/>
<text class="tk" x="849.0" y="564.4" text-anchor="middle">0</text>
<text class="tk" x="965.3" y="564.4" text-anchor="middle">100</text>
<text class="tk" x="1086.6" y="564.4" text-anchor="middle">200</text>
<text class="tk" x="1207.8" y="564.4" text-anchor="middle">300</text>
<text class="tk" x="1329.1" y="564.4" text-anchor="middle">400</text>
<text class="tk" x="1450.3" y="564.4" text-anchor="middle">500</text>
<text class="tk" x="811.1999999999999" y="456.6" text-anchor="end">40</text>
<text class="tk" x="811.1999999999999" y="314.6" text-anchor="end">80</text>
<text class="tk" x="811.1999999999999" y="172.4" text-anchor="end">120</text>
<text class="tk" x="811.1999999999999" y="30.9" text-anchor="end">160</text>
<text class="ti" x="1163.3" y="586" text-anchor="middle">Distance to Seamounts (km)</text>
<text class="ti" style="font-size:20.45px" transform="translate(777.9,272.5) rotate(-90)" text-anchor="middle">Predicted Maximum Dive Depth (m)</text>
<text class="tag" x="1458" y="34.6" text-anchor="middle">b</text>
<text class="lt" x="1539.8" y="197.1">Minimum</text><text class="lt" x="1539.8" y="220">depth of</text><text class="lt" x="1539.8" y="241.6">seamounts</text><rect x="1541.3" y="255.05" width="33.6" height="33.6" fill="#a0a0a0" fill-opacity="0.58"/><path d="M1543.5,271.9H1573.1" stroke="#000" stroke-width="3.2" fill="none"/><rect x="1541.3" y="291.85" width="33.6" height="33.6" fill="#a0a0a0" fill-opacity="0.58"/><path d="M1543.5,308.7H1573.1" stroke="#000" stroke-width="3.2" stroke-dasharray="6.36 6.36" fill="none"/><rect x="1541.3" y="328.70" width="33.6" height="33.6" fill="#a0a0a0" fill-opacity="0.58"/><path d="M1543.5,345.55H1573.1" stroke="#000" stroke-width="3.2" stroke-dasharray="12.7 6.36" fill="none"/><text class="lg" x="1586.8" y="276.5">200 m</text><text class="lg" x="1586.8" y="314.2">500 m</text><text class="lg" x="1586.8" y="351.2">All</text>
</svg>
</body></html>
